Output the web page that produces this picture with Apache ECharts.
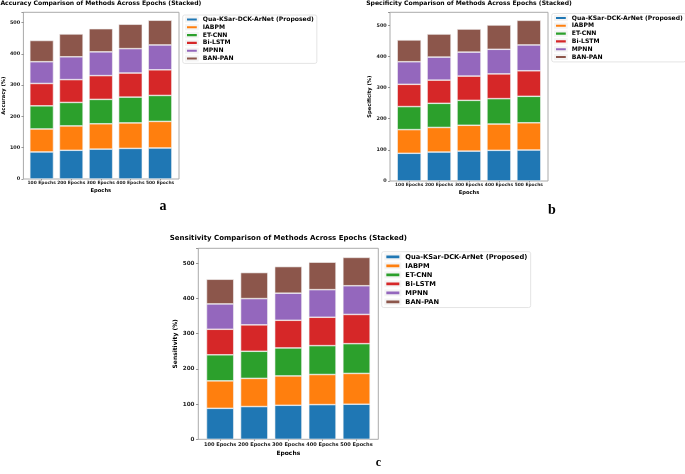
<!DOCTYPE html>
<html><head><meta charset="utf-8">
<script src="https://cdn.jsdelivr.net/npm/echarts@6/dist/echarts.min.js"></script>
<style>html,body{margin:0;padding:0;background:#fff}#c{width:685px;height:474px}</style>
</head><body><div id="c"></div><script>
const categories = ['100 Epochs', '200 Epochs', '300 Epochs', '400 Epochs', '500 Epochs'];
const methods = ['Qua-KSar-DCK-ArNet (Proposed)', 'IABPM', 'ET-CNN', 'Bi-LSTM', 'MPNN', 'BAN-PAN'];
const colors = ['#1f77b4', '#ff7f0e', '#2ca02c', '#d62728', '#9467bd', '#8c564b'];
const yTicks = [0, 100, 200, 300, 400, 500];

// Accuracy (%)
const accQua    = [86.5, 91.8, 95.6, 97.9, 99.2];
const accIABPM  = [73.5, 78.0, 81.0, 81.5, 85.0];
const accETCNN  = [74.0, 75.0, 78.0, 82.5, 83.0];
const accBiLSTM = [71.5, 73.0, 76.0, 77.0, 82.0];
const accMPNN   = [69.5, 73.0, 76.0, 78.0, 79.5];
const accBANPAN = [68.0, 73.0, 74.0, 78.0, 79.0];

// Specificity (%)
const specQua    = [89.0, 93.0, 96.0, 98.5, 99.5];
const specIABPM  = [76.0, 79.0, 83.0, 84.5, 87.5];
const specETCNN  = [74.0, 77.5, 80.0, 81.5, 85.0];
const specBiLSTM = [71.5, 74.5, 78.0, 79.5, 82.0];
const specMPNN   = [72.5, 74.0, 77.0, 79.0, 83.0];
const specBANPAN = [70.0, 74.0, 74.0, 78.0, 79.0];

// Sensitivity (%)
const sensQua    = [88.0, 93.0, 96.6, 98.5, 99.6];
const sensIABPM  = [78.0, 80.0, 83.4, 85.5, 87.5];
const sensETCNN  = [74.0, 77.0, 79.5, 82.0, 84.5];
const sensBiLSTM = [72.5, 75.0, 78.5, 80.6, 83.0];
const sensMPNN   = [72.0, 74.6, 77.0, 78.4, 81.5];
const sensBANPAN = [70.0, 73.9, 75.5, 78.0, 80.5];

const W = 685, H = 474;
const FF = 'DejaVu Sans';

const panels = [
  { title: 'Accuracy Comparison of Methods Across Epochs (Stacked)', yName: 'Accuracy (%)',
    series: [accQua, accIABPM, accETCNN, accBiLSTM, accMPNN, accBANPAN],
    frame: { l: 22.7, r: 179, t: 12.3, b: 179 }, s: 1, yNameGap: 16, xNameGap: 9.5,
    legend: { x: 182.7, y: 15, w: 11.8, h: 4.1, step: 7.8, font: 6.1 },
    letter: { text: 'a', x: 163, y: 199, size: 14 } },
  { title: 'Specificity Comparison of Methods Across Epochs (Stacked)', yName: 'Specificity (%)',
    series: [specQua, specIABPM, specETCNN, specBiLSTM, specMPNN, specBANPAN],
    frame: { l: 390, r: 548, t: 12.3, b: 181 }, s: 1, yNameGap: 16, xNameGap: 9.5,
    legend: { x: 551.7, y: 13.5, w: 11.8, h: 4.1, step: 7.8, font: 6.1 },
    letter: { text: 'b', x: 552, y: 203, size: 14 } },
  { title: 'Sensitivity Comparison of Methods Across Epochs (Stacked)', yName: 'Sensitivity (%)',
    series: [sensQua, sensIABPM, sensETCNN, sensBiLSTM, sensMPNN, sensBANPAN],
    frame: { l: 198.3, r: 378.3, t: 248.3, b: 439.3 }, s: 1.15, yNameGap: 19, xNameGap: 11,
    legend: { x: 381.7, y: 251.7, w: 15, h: 4.6, step: 9, font: 6.7 },
    letter: { text: 'c', x: 378.5, y: 457, size: 12 } }
];

const option = {
  backgroundColor: '#fff',
  animation: false,
  title: [], legend: [], grid: [], xAxis: [], yAxis: [], series: []
};

panels.forEach((p, i) => {
  const f = p.frame, s = p.s;
  const totals = categories.map((_, k) => p.series.reduce((a, arr) => a + arr[k], 0));
  const yMax = Math.max(...totals) * 1.05;
  const catW = (f.r - f.l) / 5.28;
  const pad = 0.14 * catW;
  const gF = 2 * i, gB = 2 * i + 1;

  option.title.push({
    text: p.title, left: (f.l + f.r) / 2, top: f.t - 11.5 * s, textAlign: 'center', padding: 0,
    textStyle: { fontFamily: FF, fontWeight: 'bold', fontSize: 6.1 * s, color: '#000' }
  });
  option.title.push({
    text: p.letter.text, left: p.letter.x, top: p.letter.y, textAlign: 'center', padding: 0,
    textStyle: { fontFamily: 'Liberation Serif', fontWeight: 'bold', fontSize: p.letter.size, color: '#000' }
  });

  option.grid.push({ left: f.l, right: W - f.r, top: f.t, bottom: H - f.b, show: true,
    borderColor: '#aaa', borderWidth: 1, backgroundColor: 'transparent', containLabel: false });
  option.grid.push({ left: f.l + pad, right: W - f.r + pad, top: f.t, bottom: H - f.b, containLabel: false });

  option.xAxis.push({ gridIndex: gF, type: 'value', min: 0, max: 1, show: false });
  option.yAxis.push({ gridIndex: gF, type: 'value', min: 0, max: yMax, interval: 100,
    name: p.yName, nameLocation: 'middle', nameGap: p.yNameGap,
    nameTextStyle: { fontFamily: FF, fontWeight: 'bold', fontSize: 5.2 * s, color: '#000' },
    axisLine: { show: false },
    axisTick: { show: true, length: 2 * s, lineStyle: { color: '#555', width: 0.6 } },
    splitLine: { show: false },
    axisLabel: { margin: 3.3 * s, fontFamily: FF, fontWeight: 'bold', fontSize: 4.9 * s, color: '#222',
      formatter: v => (yTicks.includes(Math.round(v)) && Math.abs(v - Math.round(v)) < 1e-6) ? String(Math.round(v)) : '' }
  });

  option.xAxis.push({ gridIndex: gB, type: 'category', data: categories, boundaryGap: true,
    name: 'Epochs', nameLocation: 'middle', nameGap: p.xNameGap,
    nameTextStyle: { fontFamily: FF, fontWeight: 'bold', fontSize: 5.2 * s, color: '#000' },
    axisLine: { show: false },
    axisTick: { show: true, alignWithLabel: true, length: 1.5 * s, lineStyle: { color: '#555', width: 0.6 } },
    axisLabel: { margin: 2.2 * s, fontFamily: FF, fontWeight: 'bold', fontSize: 4.4 * s, color: '#222', interval: 0, hideOverlap: false }
  });
  option.yAxis.push({ gridIndex: gB, type: 'value', min: 0, max: yMax, show: false, splitLine: { show: false } });

  option.legend.push({
    orient: 'vertical', left: p.legend.x, top: p.legend.y, data: methods,
    itemWidth: p.legend.w, itemHeight: p.legend.h, itemGap: 0,
    padding: [0.6 * s, 3 * s, 1 * s, 2.3 * s],
    backgroundColor: '#fff', borderColor: '#ddd', borderWidth: 0.8, borderRadius: 2,
    icon: 'rect', selectedMode: false,
    textStyle: { fontFamily: FF, fontWeight: 'bold', fontSize: p.legend.font, color: '#000', lineHeight: p.legend.step }
  });

  p.series.forEach((arr, j) => {
    option.series.push({
      type: 'bar', name: methods[j], stack: 'panel' + i, data: arr,
      xAxisIndex: gB, yAxisIndex: gB, barCategoryGap: '20%',
      itemStyle: { color: colors[j], borderColor: '#f4f4f4', borderWidth: 0.6 },
      emphasis: { disabled: true }
    });
  });
});

const chart = echarts.init(document.getElementById('c'), null, { renderer: 'canvas' });
chart.setOption(option);
</script></body></html>
